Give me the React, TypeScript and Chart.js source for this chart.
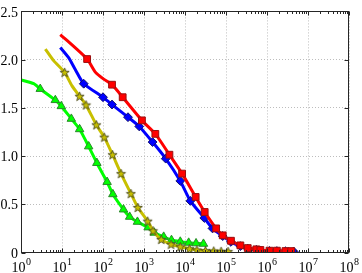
import { useEffect, useRef } from "react";
import { Chart, registerables } from "chart.js";

Chart.register(...registerables);

// ---- data ----
const redX = [9.1, 41, 65, 102, 166, 302, 890, 1890, 4170, 8510, 18200, 30200, 57500, 83200, 132000, 224000, 339000, 550000, 690000, 1150000, 1740000, 2820000, 3890000];
const redY = [2.26, 2.006, 1.87, 1.8, 1.74, 1.61, 1.37, 1.23, 1.014, 0.818, 0.576, 0.42, 0.25, 0.178, 0.122, 0.074, 0.046, 0.033, 0.026, 0.019, 0.019, 0.015, 0.015];
const redMark = [0, 1, 0, 0, 1, 1, 1, 1, 1, 1, 1, 1, 1, 1, 1, 1, 1, 1, 1, 1, 1, 1, 1];

const blueX = [9.1, 14.5, 20.9, 33.9, 100, 166, 407, 767, 1620, 3390, 7670, 13500, 29500, 46800, 83200, 132000, 224000, 339000, 550000, 690000, 1150000, 1740000, 2820000, 4470000];
const blueY = [2.126, 2.02, 1.9, 1.75, 1.61, 1.534, 1.403, 1.307, 1.145, 0.973, 0.742, 0.535, 0.358, 0.25, 0.17, 0.11, 0.066, 0.04, 0.028, 0.022, 0.016, 0.015, 0.012, 0.01];
const blueMark = [0, 0, 0, 1, 1, 1, 1, 1, 1, 1, 1, 1, 1, 1, 1, 1, 1, 1, 1, 1, 1, 1, 1, 1];

const yellowX = [3.92, 6.24, 11.6, 17.4, 26.9, 38.5, 68.7, 107, 171, 275, 479, 708, 1230, 1660, 2630, 4570, 7670, 12900, 19500, 31600, 50100, 75900, 112000];
const yellowY = [2.11, 1.99, 1.868, 1.73, 1.62, 1.53, 1.324, 1.196, 1.014, 0.818, 0.611, 0.467, 0.325, 0.225, 0.136, 0.085, 0.06, 0.039, 0.026, 0.019, 0.015, 0.012, 0.01];
const yellowMark = [0, 0, 1, 0, 1, 1, 1, 1, 1, 1, 1, 1, 1, 1, 1, 1, 1, 1, 1, 1, 1, 1, 1];

const greenX = [1, 2.04, 2.95, 6.87, 9.62, 16.9, 26.9, 44.7, 70.8, 126, 174, 316, 447, 692, 1260, 1780, 3020, 4680, 7670, 12300, 18600, 28200];
const greenY = [1.79, 1.75, 1.696, 1.58, 1.517, 1.386, 1.278, 1.1, 0.928, 0.731, 0.604, 0.446, 0.37, 0.318, 0.26, 0.205, 0.163, 0.129, 0.112, 0.101, 0.095, 0.09];
const greenMark = [0, 0, 1, 1, 1, 1, 1, 1, 1, 1, 1, 1, 1, 1, 1, 1, 1, 1, 1, 1, 1, 1];

const xTickExps = [0, 1, 2, 3, 4, 5, 6, 7, 8];
const yTickValues = [0, 0.5, 1, 1.5, 2, 2.5];

const FONT = "'Liberation Serif', 'Times New Roman', serif";

function makeStar(): HTMLCanvasElement {
  const c = document.createElement("canvas");
  const s = 11;
  c.width = s;
  c.height = s;
  const g = c.getContext("2d")!;
  const cx = s / 2, cy = s / 2 + 0.4;
  const ro = 4.8, ri = 2.0;
  g.beginPath();
  for (let i = 0; i < 10; i++) {
    const r = i % 2 === 0 ? ro : ri;
    const a = -Math.PI / 2 + (i * Math.PI) / 5;
    const px = cx + r * Math.cos(a);
    const py = cy + r * Math.sin(a);
    if (i === 0) g.moveTo(px, py);
    else g.lineTo(px, py);
  }
  g.closePath();
  g.fillStyle = "#c8c000";
  g.fill();
  g.strokeStyle = "#4a4a20";
  g.lineWidth = 0.9;
  g.stroke();
  return c;
}

const framePlugin = {
  id: "frame",
  afterDraw(chart: any) {
    const { ctx, chartArea: a, scales } = chart;
    const xs = scales.x;
    const ys = scales.y;
    ctx.save();
    ctx.strokeStyle = "#262626";
    ctx.lineWidth = 1;
    const L = Math.round(a.left) + 0.5;
    const R = Math.round(a.right) - 0.5;
    const T = Math.round(a.top) + 0.5;
    const B = Math.round(a.bottom) - 0.5;
    ctx.strokeRect(L, T, R - L, B - T);
    ctx.beginPath();
    const eMin = xTickExps[0];
    const eMax = xTickExps[xTickExps.length - 1];
    for (let e = eMin; e <= eMax; e++) {
      for (let k = 1; k <= 9; k++) {
        if (e === eMax && k > 1) break;
        const px = Math.round(xs.getPixelForValue(k * Math.pow(10, e))) + 0.5;
        const len = k === 1 ? 4 : 2.5;
        ctx.moveTo(px, B);
        ctx.lineTo(px, B - len);
        ctx.moveTo(px, T);
        ctx.lineTo(px, T + len);
      }
    }
    for (const v of yTickValues) {
      const py = Math.round(ys.getPixelForValue(v)) + 0.5;
      ctx.moveTo(L, py);
      ctx.lineTo(L + 4, py);
      ctx.moveTo(R, py);
      ctx.lineTo(R - 4, py);
    }
    ctx.stroke();

    // x tick labels 10^n
    ctx.fillStyle = "#000";
    ctx.textBaseline = "alphabetic";
    ctx.textAlign = "left";
    for (const e of xTickExps) {
      const px = xs.getPixelForValue(Math.pow(10, e));
      ctx.font = `14px ${FONT}`;
      const wb = ctx.measureText("10").width;
      ctx.font = `10px ${FONT}`;
      const we = ctx.measureText(String(e)).width;
      const x0 = px - (wb + we) / 2;
      ctx.font = `14px ${FONT}`;
      ctx.fillText("10", x0, 271.5);
      ctx.font = `10px ${FONT}`;
      ctx.fillText(String(e), x0 + wb + 0.5, 264.5);
    }
    ctx.restore();
  },
};

function series(xs: number[], ys: number[]) {
  return xs.map((x, i) => ({ x, y: ys[i] }));
}

export default function App() {
  const ref = useRef<HTMLCanvasElement | null>(null);

  useEffect(() => {
    if (!ref.current) return;
    const star = makeStar();
    const chart = new Chart(ref.current, {
      type: "line",
      data: {
        datasets: [
          {
            data: series(redX, redY),
            borderColor: "#ff0000",
            borderWidth: 3,
            pointStyle: "rect",
            pointRadius: redMark.map((m) => (m ? 4.8 : 0)),
            pointBackgroundColor: "#ff0000",
            pointBorderColor: "#9a1010",
            pointBorderWidth: 1,
            tension: 0.2,
          },
          {
            data: series(blueX, blueY),
            borderColor: "#0000ff",
            borderWidth: 3,
            pointStyle: "rectRot",
            pointRadius: blueMark.map((m) => (m ? 4.4 : 0)),
            pointBackgroundColor: "#0000ff",
            pointBorderColor: "#101070",
            pointBorderWidth: 1,
            tension: 0.2,
          },
          {
            data: series(yellowX, yellowY),
            borderColor: "#c8c000",
            borderWidth: 3,
            pointStyle: star as any,
            pointRadius: yellowMark.map((m) => (m ? 4.5 : 0)),
            tension: 0.2,
          },
          {
            data: series(greenX, greenY),
            borderColor: "#00ff00",
            borderWidth: 3,
            pointStyle: "triangle",
            pointRadius: greenMark.map((m) => (m ? 4.9 : 0)),
            pointBackgroundColor: "#00ff00",
            pointBorderColor: "#2a8a2a",
            pointBorderWidth: 1,
            tension: 0.2,
          },
        ],
      },
      options: {
        responsive: false,
        animation: false,
        events: [],
        layout: { padding: { top: 10, right: 13, left: 0, bottom: 0 } },
        plugins: { legend: { display: false }, tooltip: { enabled: false } },
        scales: {
          x: {
            type: "logarithmic",
            min: 1,
            max: 1e8,
            afterBuildTicks: (scale: any) => {
              scale.ticks = xTickExps.map((e) => ({ value: Math.pow(10, e) }));
            },
            afterFit: (scale: any) => {
              scale.height = 20.5;
            },
            ticks: { display: false },
            grid: { color: "#bdbdbd", lineWidth: 1, drawTicks: false },
            border: { display: false, dash: [1, 2] },
          },
          y: {
            type: "linear",
            min: 0,
            max: 2.5,
            afterBuildTicks: (scale: any) => {
              scale.ticks = yTickValues.map((v) => ({ value: v }));
            },
            afterFit: (scale: any) => {
              scale.width = 21;
            },
            ticks: {
              color: "#000",
              padding: 3,
              labelOffset: 1.5,
              font: { family: FONT, size: 14 },
            },
            grid: { color: "#bdbdbd", lineWidth: 1, drawTicks: false },
            border: { display: false, dash: [1, 2] },
          },
        },
      },
      plugins: [framePlugin],
    } as any);
    return () => chart.destroy();
  }, []);

  return (
    <div style={{ position: "absolute", left: 0, top: 0, width: 362, height: 273, background: "#fff" }}>
      <canvas ref={ref} width={362} height={273} style={{ display: "block" }} />
    </div>
  );
}
